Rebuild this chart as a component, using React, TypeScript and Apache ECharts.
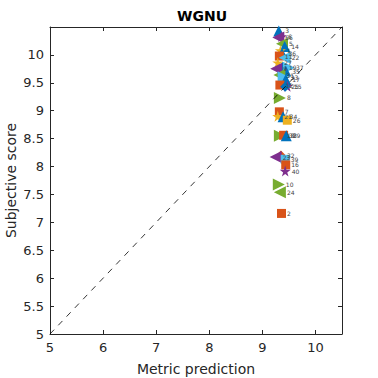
import React, { useEffect, useRef } from "react";
import * as echarts from "echarts";

const TITLE = "WGNU";
const X_NAME = "Metric prediction";
const Y_NAME = "Subjective score";
const X_TICKS = [5, 6, 7, 8, 9, 10];

// point data (metric prediction, subjective score, label)
const predictions = [9.31, 9.36, 9.3, 9.37, 9.42, 9.34, 9.37, 9.32, 9.42, 9.29, 9.38, 9.5, 9.26, 9.44, 9.32, 9.4, 9.44, 9.33, 9.47, 9.43, 9.33, 9.32, 9.29, 9.39, 9.47, 9.33, 9.4, 9.45, 9.35, 9.25, 9.43, 9.44, 9.43, 9.31, 9.33, 9.36];
const scores = [10.43, 10.33, 10.31, 10.2, 10.15, 10.08, 10.03, 9.98, 9.95, 9.86, 9.78, 9.77, 9.75, 9.71, 9.64, 9.6, 9.56, 9.46, 9.44, 9.43, 9.23, 8.98, 8.9, 8.89, 8.83, 8.55, 8.56, 8.55, 8.2, 8.17, 8.13, 8.03, 7.92, 7.68, 7.54, 7.16];
const pointLabels = ["3", "6", "66", "5", "14", "1", "36", "11", "22", "27", "19", "37", "9", "35", "31", "33", "17", "12", "15", "25", "8", "7", "21", "34", "26", "18", "38", "29", "32", "23", "39", "16", "40", "10", "24", "2"];

// styles per point (colour index, marker kind)
const COLORS = ["#0072BD", "#D95319", "#EDB120", "#7E2F8E", "#77AC30", "#4DBEEE", "#A2142F"];
const colorIdx = [0, 3, 3, 4, 0, 2, 0, 1, 5, 2, 0, 5, 3, 0, 4, 5, 0, 1, 3, 0, 4, 1, 2, 0, 2, 4, 1, 0, 1, 3, 5, 1, 3, 4, 4, 1];
const STAR = "path://M50,0 L61,35 L98,35 L68,57 L79,91 L50,70 L21,91 L32,57 L2,35 L39,35 Z";
const markerKind = ["tri", "star", "left", "left", "tri", "star", "tri", "rect", "left", "star", "tri", "right", "left", "tri", "left", "right", "tri", "rect", "star", "diamond", "right", "rect", "star", "tri", "rect", "right", "rect", "tri", "diamond", "left", "rect", "rect", "star", "right", "left", "rect"];

function symbolFor(kind: string) {
  switch (kind) {
    case "tri": return { symbol: "triangle", rotate: 0, size: 11 };
    case "left": return { symbol: "triangle", rotate: 90, size: 12 };
    case "right": return { symbol: "triangle", rotate: -90, size: 12 };
    case "star": return { symbol: STAR, rotate: 0, size: 11 };
    case "diamond": return { symbol: "diamond", rotate: 0, size: 10 };
    default: return { symbol: "rect", rotate: 0, size: 9 };
  }
}

export default function App() {
  const ref = useRef<HTMLDivElement>(null);
  useEffect(() => {
    if (!ref.current) return;
    const chart = echarts.init(ref.current, null, { renderer: "svg" });
    const font = "DejaVu Sans";
    const pts = predictions.map((x, i) => {
      const s = symbolFor(markerKind[i]);
      return {
        value: [x, scores[i]],
        name: pointLabels[i],
        symbol: s.symbol,
        symbolRotate: s.rotate,
        symbolSize: s.size,
        itemStyle: { color: COLORS[colorIdx[i]], opacity: 1 },
      };
    });
    const axisCommon = {
      type: "value" as const,
      min: 5,
      max: 10.5,
      axisLine: { show: true, lineStyle: { color: "#262626", width: 1 } },
      axisTick: { show: true, inside: true, length: 4, lineStyle: { color: "#262626" } },
      splitLine: { show: false },
    };
    chart.setOption({
      animation: false,
      backgroundColor: "#ffffff",
      title: {
        text: TITLE,
        left: 172,
        top: 4,
        textStyle: { fontFamily: font, fontSize: 14, fontWeight: "bold", color: "#000" },
      },
      grid: { left: 50, right: 36, top: 27, bottom: 44, containLabel: false, outerBoundsMode: "none" },
      xAxis: [
        {
          ...axisCommon,
          interval: 1,
          name: X_NAME,
          nameLocation: "middle",
          nameGap: 28,
          nameMoveOverlap: false,
          nameTextStyle: { fontFamily: font, fontSize: 14, color: "#262626" },
          axisLabel: {
            fontFamily: font, fontSize: 13, color: "#262626", margin: 7,
            showMaxLabel: false,
            formatter: (v: number) => (X_TICKS.includes(v) ? String(v) : ""),
          },
        },
        {
          ...axisCommon,
          interval: 1,
          position: "top",
          axisLabel: { show: false },
        },
      ],
      yAxis: [
        {
          ...axisCommon,
          interval: 0.5,
          name: Y_NAME,
          nameLocation: "middle",
          nameGap: 32,
          nameMoveOverlap: false,
          nameTextStyle: { fontFamily: font, fontSize: 14, color: "#262626" },
          axisLabel: {
            fontFamily: font, fontSize: 13, color: "#262626", margin: 6,
            showMaxLabel: false,
            formatter: (v: number) => String(v),
          },
        },
        {
          ...axisCommon,
          interval: 0.5,
          position: "right",
          axisLabel: { show: false },
        },
      ],
      series: [
        {
          type: "line",
          data: [[5, 5], [10.5, 10.5]],
          symbol: "none",
          silent: true,
          lineStyle: { color: "#000", width: 0.8, type: [6, 6] },
        },
        {
          type: "scatter",
          data: pts,
          label: {
            show: true,
            position: "right",
            distance: 1,
            formatter: (p: any) => p.name,
            fontFamily: font,
            fontSize: 6,
            color: "#444",
          },
          labelLayout: { hideOverlap: false },
        },
      ],
    });
    return () => chart.dispose();
  }, []);
  return <div ref={ref} style={{ position: "fixed", left: 0, top: 0, width: 378, height: 378 }} />;
}
